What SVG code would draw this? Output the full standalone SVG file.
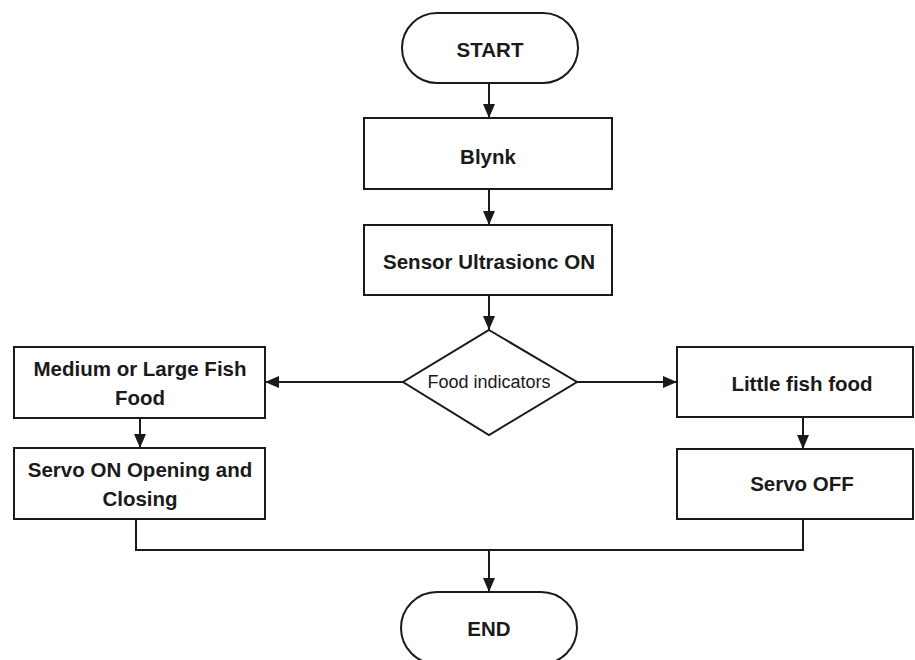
<svg xmlns="http://www.w3.org/2000/svg" width="915" height="660" viewBox="0 0 915 660">
<style>
.box{fill:#fff;stroke:#1a1a1a;stroke-width:2}
.t{font-family:"Liberation Sans",Arial,sans-serif;font-weight:bold;font-size:20.5px;fill:#1a1a1a;text-anchor:middle;dominant-baseline:central}
.s{font-family:"Liberation Sans",Arial,sans-serif;font-size:18px;fill:#1a1a1a;text-anchor:middle;dominant-baseline:central}
.c{fill:none;stroke:#1a1a1a;stroke-width:2}
</style>
<defs>
<marker id="ah" viewBox="0 0 14 12" refX="14" refY="6" markerWidth="14" markerHeight="12" markerUnits="userSpaceOnUse" orient="auto">
<path d="M0,0 L14,6 L0,12 Z" fill="#1a1a1a"/>
</marker>
</defs>
<rect width="915" height="660" fill="#fff"/>
<g id="connectors">
<line class="c" x1="489" y1="83" x2="489" y2="118" marker-end="url(#ah)"/>
<line class="c" x1="489" y1="189" x2="489" y2="225" marker-end="url(#ah)"/>
<line class="c" x1="489" y1="295" x2="489" y2="330" marker-end="url(#ah)"/>
<line class="c" x1="403" y1="382" x2="265" y2="382" marker-end="url(#ah)"/>
<line class="c" x1="577" y1="382" x2="677" y2="382" marker-end="url(#ah)"/>
<line class="c" x1="140" y1="418" x2="140" y2="448" marker-end="url(#ah)"/>
<line class="c" x1="803" y1="417" x2="803" y2="449" marker-end="url(#ah)"/>
<polyline class="c" points="136,519 136,550 803,550 803,519"/>
<line class="c" x1="489" y1="550" x2="489" y2="592" marker-end="url(#ah)"/>
</g>
<g id="start">
<rect class="box" x="402" y="13" width="176" height="70" rx="35"/>
<text class="t" x="490" y="49">START</text>
</g>
<g id="blynk">
<rect class="box" x="364" y="118" width="248" height="71"/>
<text class="t" x="488" y="156">Blynk</text>
</g>
<g id="sensor">
<rect class="box" x="364" y="225" width="248" height="70"/>
<text class="t" x="489" y="261">Sensor Ultrasionc ON</text>
</g>
<g id="decision">
<polygon class="box" points="489,330 577,382 489,435 403,382"/>
<text class="s" x="489" y="382">Food indicators</text>
</g>
<g id="medium">
<rect class="box" x="14" y="347" width="251" height="71"/>
<text class="t" x="140" y="368">Medium or Large Fish</text>
<text class="t" x="140" y="397">Food</text>
</g>
<g id="servo-on">
<rect class="box" x="14" y="448" width="251" height="71"/>
<text class="t" x="140" y="469">Servo ON Opening and</text>
<text class="t" x="140" y="498">Closing</text>
</g>
<g id="little">
<rect class="box" x="677" y="347" width="236" height="70"/>
<text class="t" x="802" y="383">Little fish food</text>
</g>
<g id="servo-off">
<rect class="box" x="677" y="449" width="236" height="70"/>
<text class="t" x="802" y="483">Servo OFF</text>
</g>
<g id="end">
<rect class="box" x="401" y="592" width="176" height="72" rx="36"/>
<text class="t" x="489" y="628">END</text>
</g>
</svg>
